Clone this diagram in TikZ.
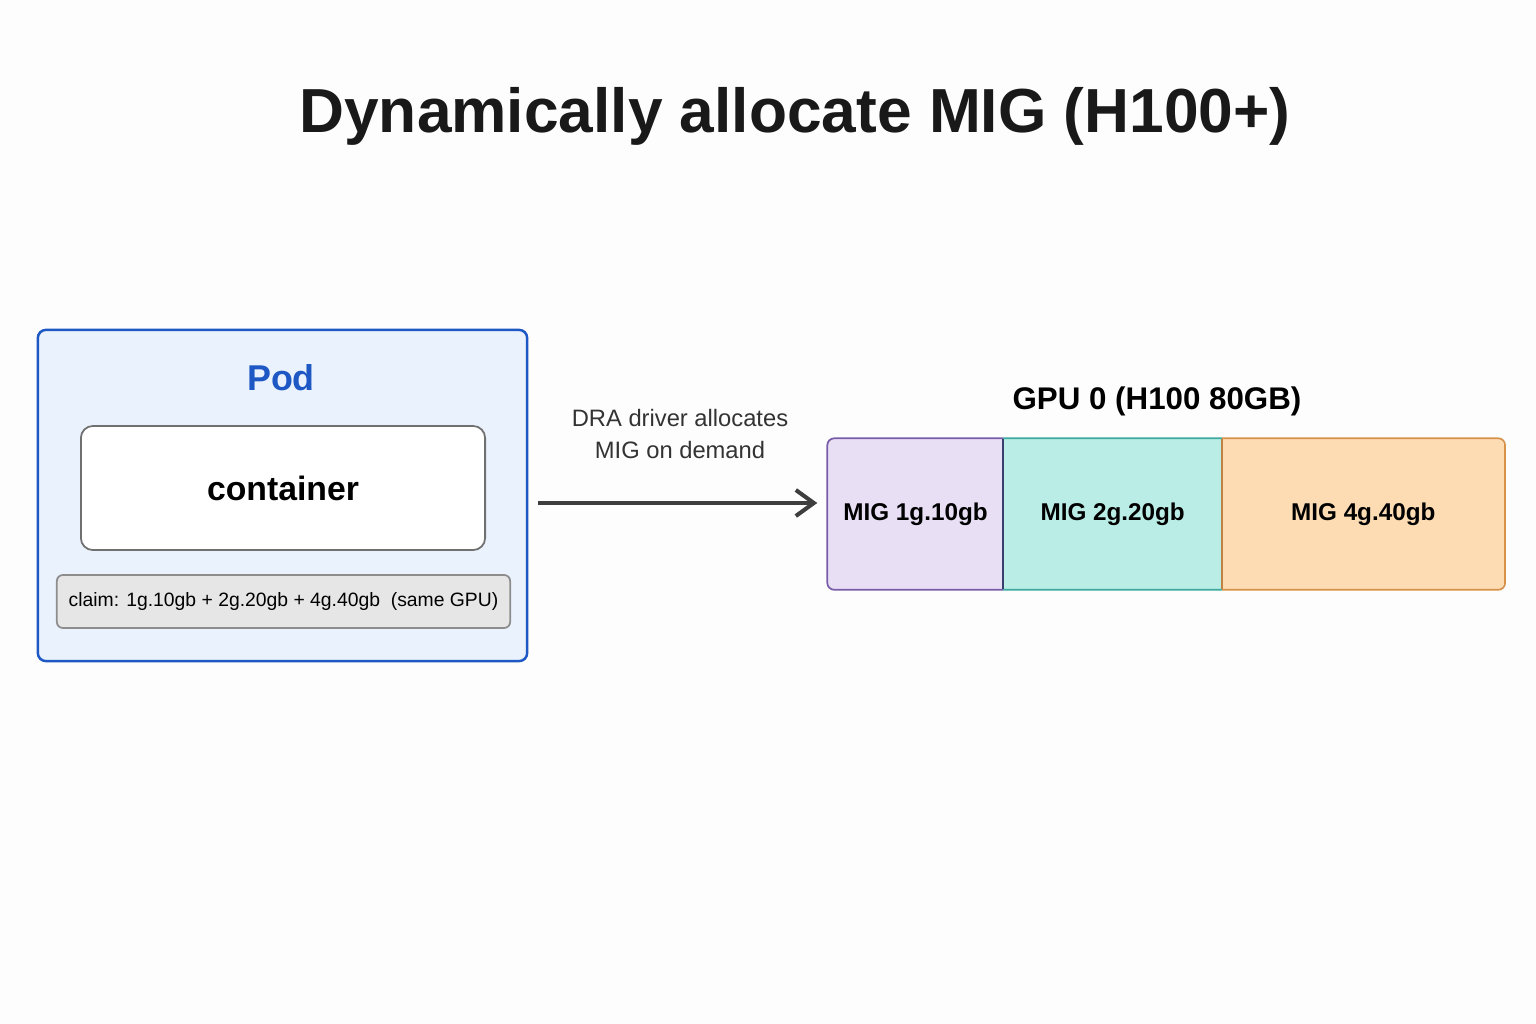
\documentclass[tikz,border=0pt]{standalone}
\usepackage{fontspec}
\setmainfont{Liberation Sans}
\usepackage{xcolor}
\usepackage{tikz}
\usetikzlibrary{positioning,calc,fit,arrows.meta}
\definecolor{pagebg}{RGB}{253, 253, 253}
\definecolor{podblue}{RGB}{30, 88, 196}
\definecolor{podfill}{RGB}{234, 242, 253}
\definecolor{boxgray}{RGB}{112, 112, 112}
\definecolor{claimfill}{RGB}{230, 230, 230}
\definecolor{arrowgray}{RGB}{62, 62, 62}
\definecolor{miglav}{RGB}{232, 223, 245}
\definecolor{migpurple}{RGB}{120, 92, 168}
\definecolor{migteal}{RGB}{185, 237, 230}
\definecolor{migtealdark}{RGB}{60, 170, 158}
\definecolor{migpeach}{RGB}{253, 220, 180}
\definecolor{migorange}{RGB}{214, 146, 72}
\definecolor{dividernavy}{RGB}{58, 62, 110}

\begin{document}
\begin{tikzpicture}[
    x=0.01cm, y=-0.01cm,
    title/.style={font=\fontsize{17.7}{20}\selectfont\bfseries, text=black!90},
    card/.style={draw=podblue, line width=0.7pt, fill=podfill, rounded corners=0.08cm, minimum width=4.89cm, minimum height=3.31cm},
    inner/.style={draw=boxgray, line width=0.5pt, fill=white, rounded corners=0.12cm, minimum width=4.04cm, minimum height=1.24cm, font=\fontsize{9.6}{11}\selectfont\bfseries},
    claimbox/.style={draw=boxgray!80, line width=0.5pt, fill=claimfill, rounded corners=0.06cm, minimum width=4.53cm, minimum height=0.53cm, inner xsep=0.05cm, font=\fontsize{5.5}{7}\selectfont},
    mig/.style={minimum height=1.5cm, inner sep=0pt, outer sep=0pt, font=\fontsize{6.9}{8}\selectfont\bfseries},
    flow/.style={draw=arrowgray, line width=1.15pt, -{Straight Barb[length=0.18cm, width=0.26cm, line width=1.15pt]}}
]
    % Page
    \useasboundingbox (0,0) rectangle (1536,1024);
    \fill[pagebg] (0,0) rectangle (1536,1024);

    % Title
    \node[title] (title) at (795,116) {Dynamically allocate MIG (H100+)};

    % Pod Card
    \node[card] (pod) at (282.5,495.5) {};
    \node[text=podblue, font=\fontsize{10.2}{12}\selectfont\bfseries] (podlabel) at (281,378) {Pod};
    \node[inner] (container) at (283,488) {container};
    \node[claimbox] (claim) at (283.5,601.5) {claim: 1g.10gb + 2g.20gb + 4g.40gb \ (same GPU)};

    % GPU strip
    \coordinate (gpunw) at (828,439);
    \begin{scope}
        \clip[rounded corners=0.07cm] (gpunw) rectangle ++(676,150);
        \node[mig, fill=miglav, minimum width=1.75cm, anchor=north west] (mig1) at (gpunw) {MIG 1g.10gb};
        \node[mig, fill=migteal, minimum width=2.19cm, right=0pt of mig1] (mig2) {MIG 2g.20gb};
        \node[mig, fill=migpeach, minimum width=2.82cm, right=0pt of mig2] (mig3) {MIG 4g.40gb};
    \end{scope}
    \node[fit=(mig1)(mig3), inner sep=0pt] (gpu) {};

    % Outer edges, one colour per slice
    \begin{scope}
        \clip ([shift={(-0.05cm,0.05cm)}]mig1.north west) rectangle ([shift={(0,-0.05cm)}]mig1.south east);
        \draw[migpurple, line width=0.5pt, rounded corners=0.07cm] (gpu.north west) rectangle (gpu.south east);
    \end{scope}
    \begin{scope}
        \clip ([shift={(0,0.05cm)}]mig2.north west) rectangle ([shift={(0,-0.05cm)}]mig2.south east);
        \draw[migtealdark, line width=0.5pt, rounded corners=0.07cm] (gpu.north west) rectangle (gpu.south east);
    \end{scope}
    \begin{scope}
        \clip ([shift={(0,0.05cm)}]mig3.north west) rectangle ([shift={(0.05cm,-0.05cm)}]mig3.south east);
        \draw[migorange, line width=0.5pt, rounded corners=0.07cm] (gpu.north west) rectangle (gpu.south east);
    \end{scope}
    \draw[dividernavy, line width=0.5pt] (mig1.north east) -- (mig1.south east);
    \draw[migorange!90!black, line width=0.5pt] (mig2.north east) -- (mig2.south east);

    % GPU label
    \node[font=\fontsize{8.9}{10}\selectfont\bfseries] (gpulabel) at (1157,401) {GPU 0 (H100 80GB)};

    % Allocation arrow
    \coordinate (flowy) at (0,503);
    \draw[flow] ([xshift=0.1cm]pod.east |- flowy) -- ([xshift=-0.1cm]gpu.west |- flowy);
    \node[align=center, text=black!80, font=\fontsize{6.75}{9}\selectfont] (dra) at (680,434) {DRA driver allocates\\MIG on demand};
\end{tikzpicture}
\end{document}
